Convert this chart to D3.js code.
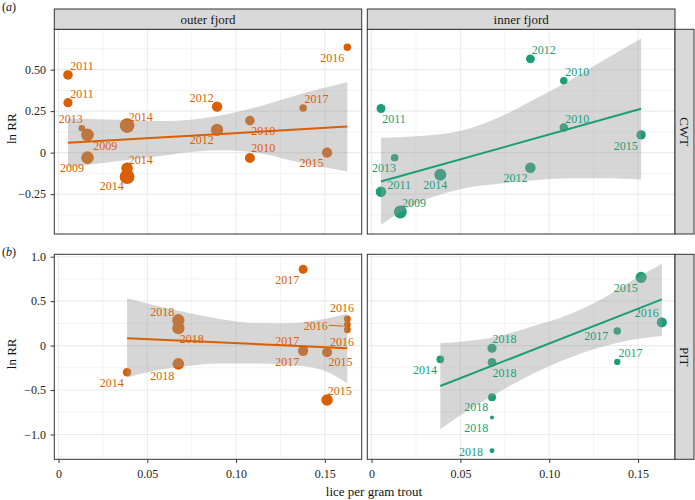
<!DOCTYPE html>
<html><head><meta charset="utf-8">
<script src="https://cdn.jsdelivr.net/npm/d3@7"></script>
<style>body{margin:0;background:#fff} svg{display:block} svg text{font-family:"Liberation Serif","Times New Roman",Times,serif !important}</style>
</head><body><svg id="c" width="695" height="500" font-family="Liberation Serif, Times New Roman, serif"></svg>
<script>
// ---------- data ----------
const sites = ["outer fjord", "inner fjord"];
const methods = ["CWT", "PIT"];
const xTicks = [0, 0.05, 0.10, 0.15];
const xTickLabels = ["0", "0.05", "0.10", "0.15"];
const yTicksCWT = [-0.25, 0, 0.25, 0.5];
const yTickLabelsCWT = ["\u22120.25", "0", "0.25", "0.50"];
const yTicksPIT = [-1, -0.5, 0, 0.5, 1];
const yTickLabelsPIT = ["\u22121.0", "\u22120.5", "0", "0.5", "1.0"];

// CWT, outer fjord
const cwtOuterLice = [0.0053,0.0053,0.0131,0.0163,0.0163,0.0386,0.0386,0.0386,0.0893,0.0893,0.1078,0.1078,0.1378,0.1513,0.1627];
const cwtOuterLnRR = [0.468,0.301,0.147,0.107,-0.03,0.163,-0.094,-0.145,0.277,0.137,0.193,-0.032,0.269,0.0,0.635];
const cwtOuterN    = [23,21,11,40,40,54,33,54,27,38,23,25,14,26,14];
const cwtOuterYear = ["2011","2011","2013","2009","2009","2014","2014","2014","2012","2012","2010","2010","2017","2015","2016"];
// CWT, inner fjord
const cwtInnerLice = [0.0894,0.1082,0.0053,0.1082,0.1517,0.013,0.0894,0.0387,0.0053,0.0162];
const cwtInnerLnRR = [0.565,0.433,0.266,0.151,0.107,-0.03,-0.091,-0.133,-0.236,-0.357];
const cwtInnerN    = [20,14,20,18,22,14,28,36,28,42];
const cwtInnerYear = ["2012","2010","2011","2010","2015","2013","2012","2014","2011","2009"];
// PIT, outer fjord
const pitOuterLice = [0.1378,0.0675,0.0675,0.0675,0.0386,0.1378,0.1378,0.1513,0.1513,0.1627,0.1627,0.1627];
const pitOuterLnRR = [0.859,0.285,0.196,-0.205,-0.30,-0.056,-0.062,-0.074,-0.612,0.30,0.236,0.178];
const pitOuterN    = [20,38,38,34,18,25,25,25,33,12,12,12];
const pitOuterYear = ["2017","2018","2018","2018","2014","2017","2017","2015","2015","2016","2016","2016"];
// PIT, inner fjord
const pitInnerLice = [0.1517,0.1634,0.1383,0.1383,0.0387,0.0678,0.0678,0.0678,0.0678,0.0678];
const pitInnerLnRR = [0.768,0.261,0.165,-0.184,-0.154,-0.03,-0.188,-0.58,-0.808,-1.182];
const pitInnerN    = [31,25,14,10,15,21,19,16,4,6];
const pitInnerYear = ["2015","2016","2017","2017","2014","2018","2018","2018","2018","2018"];

// fitted lines and 95% bands
const cwtOuterFitX = [0.0053, 0.1627], cwtOuterFitY = [0.059, 0.157];
const cwtOuterBandX  = [0.0053,0.0385,0.0572,0.0759,0.0947,0.1134,0.1322,0.1627];
const cwtOuterBandHi = [0.205,0.196,0.19,0.2,0.232,0.28,0.34,0.425];
const cwtOuterBandLo = [-0.09,-0.044,-0.02,0.006,0.014,-0.004,-0.05,-0.114];

const cwtInnerFitX = [0.0053, 0.1517], cwtInnerFitY = [-0.174, 0.264];
const cwtInnerBandX  = [0.0053,0.0179,0.0273,0.0499,0.0743,0.0932,0.112,0.1308,0.1517];
const cwtInnerBandHi = [0.09,0.095,0.10,0.13,0.225,0.33,0.438,0.558,0.687];
const cwtInnerBandLo = [-0.436,-0.345,-0.295,-0.22,-0.185,-0.164,-0.154,-0.154,-0.162];

const pitOuterFitX = [0.0386, 0.1627], pitOuterFitY = [0.083, -0.03];
const pitOuterBandX  = [0.0386,0.0534,0.0722,0.0909,0.1097,0.1285,0.1472,0.1627];
const pitOuterBandHi = [0.534,0.458,0.372,0.30,0.255,0.25,0.29,0.357];
const pitOuterBandLo = [-0.36,-0.285,-0.229,-0.2,-0.2,-0.215,-0.265,-0.424];

const pitInnerFitX = [0.0387, 0.1634], pitInnerFitY = [-0.455, 0.52];
const pitInnerBandX  = [0.0387,0.0517,0.0706,0.0894,0.1082,0.127,0.1458,0.1634];
const pitInnerBandHi = [0.027,0.045,0.101,0.21,0.327,0.495,0.721,0.92];
const pitInnerBandLo = [-0.942,-0.761,-0.536,-0.33,-0.161,-0.029,0.064,0.109];

// label placement (px offsets from point, repel-style)
const cwtOuterLab = [[14,-9],[14,-9],[-11,-9],[17.7,10.7],[-15.6,10],[13.7,-9],[13.7,-8.3],[-15.3,9],[-15.3,-9],[-15.3,10],[13.3,10.3],[13.3,-9.7],[13.4,-9],[-15.6,10.6],[-15,10.4]];
const cwtInnerLab = [[13.3,-9.3],[13.4,-9.3],[13,10.3],[13.4,-8.7],[-15.3,10.7],[-10.7,10],[-15,10],[-5,10.3],[18.3,-6.7],[13.7,-9.4]];
const pitOuterLab = [[-16,10.7],[-16,-8.3],[13.4,11],[-16,11.7],[-15.3,10.4],[-16,-10],[-16,10.5],[13.3,10],[12.7,-9.3],[-5.3,-11.6],[-31.6,0.7],[-5.3,12.4]];
const pitInnerLab = [[-15.3,10],[-15,-9.4],[-21,5],[13.3,-9.3],[-15.3,10.7],[12.6,-9.3],[12.6,10.4],[-15.7,10],[-15.7,10.6],[-21,1]];

// ---------- layout ----------
const FONT = '"Liberation Serif","Times New Roman",Times,serif';
const orange = "#D95F02", green = "#1B9E77";
const colX = [[54.3, 361.7], [367.3, 675]];
const rowY = [[29.3, 234], [254.3, 459.3]];
const xDomain = [-0.0024, 0.1708];
const yDomains = [[-0.49, 0.743], [-1.279, 1.027]];
const xMinor = [0.025, 0.075, 0.125];
const yMinor = [[-0.375, -0.125, 0.125, 0.375, 0.625], [-1.25, -0.75, -0.25, 0.25, 0.75]];
const yMajor = [yTicksCWT, yTicksPIT];
const yLabels = [yTickLabelsCWT, yTickLabelsPIT];

const panels = [
  {r:0,c:0,col:orange,x:cwtOuterLice,y:cwtOuterLnRR,n:cwtOuterN,yr:cwtOuterYear,lab:cwtOuterLab,fx:cwtOuterFitX,fy:cwtOuterFitY,bx:cwtOuterBandX,bh:cwtOuterBandHi,bl:cwtOuterBandLo},
  {r:0,c:1,col:green,x:cwtInnerLice,y:cwtInnerLnRR,n:cwtInnerN,yr:cwtInnerYear,lab:cwtInnerLab,fx:cwtInnerFitX,fy:cwtInnerFitY,bx:cwtInnerBandX,bh:cwtInnerBandHi,bl:cwtInnerBandLo},
  {r:1,c:0,col:orange,x:pitOuterLice,y:pitOuterLnRR,n:pitOuterN,yr:pitOuterYear,lab:pitOuterLab,fx:pitOuterFitX,fy:pitOuterFitY,bx:pitOuterBandX,bh:pitOuterBandHi,bl:pitOuterBandLo,seg:[10]},
  {r:1,c:1,col:green,x:pitInnerLice,y:pitInnerLnRR,n:pitInnerN,yr:pitInnerYear,lab:pitInnerLab,fx:pitInnerFitX,fy:pitInnerFitY,bx:pitInnerBandX,bh:pitInnerBandHi,bl:pitInnerBandLo}
];

const svg = d3.select("#c");
const rScale = d3.scaleSqrt().domain([0, 100]).range([0, 10]);

panels.forEach(p => {
  const [x0, x1] = colX[p.c], [y0, y1] = rowY[p.r];
  const xs = d3.scaleLinear().domain(xDomain).range([x0, x1]);
  const ys = d3.scaleLinear().domain(yDomains[p.r]).range([y1, y0]);
  const g = svg.append("g");
  g.append("rect").attr("x", x0).attr("y", y0).attr("width", x1 - x0).attr("height", y1 - y0).attr("fill", "#fff");
  // grid
  g.selectAll(".mx").data(xMinor).join("line").attr("x1", d => xs(d)).attr("x2", d => xs(d)).attr("y1", y0).attr("y2", y1).attr("stroke", "#EBEBEB").attr("stroke-width", 0.6);
  g.selectAll(".my").data(yMinor[p.r]).join("line").attr("x1", x0).attr("x2", x1).attr("y1", d => ys(d)).attr("y2", d => ys(d)).attr("stroke", "#EBEBEB").attr("stroke-width", 0.6);
  g.selectAll(".Mx").data(xTicks).join("line").attr("x1", d => xs(d)).attr("x2", d => xs(d)).attr("y1", y0).attr("y2", y1).attr("stroke", "#EBEBEB").attr("stroke-width", 1.1);
  g.selectAll(".My").data(yMajor[p.r]).join("line").attr("x1", x0).attr("x2", x1).attr("y1", d => ys(d)).attr("y2", d => ys(d)).attr("stroke", "#EBEBEB").attr("stroke-width", 1.1);

  const pts = p.x.map((v, i) => ({x: v, y: p.y[i], n: p.n[i], yr: p.yr[i], lab: p.lab[i], i}));
  // points
  g.selectAll(".pt").data(pts).join("circle").attr("cx", d => xs(d.x)).attr("cy", d => ys(d.y)).attr("r", d => rScale(d.n)).attr("fill", p.col);
  // ribbon
  const band = p.bx.map((v, i) => ({x: v, lo: p.bl[i], hi: p.bh[i]}));
  g.append("path").datum(band)
    .attr("d", d3.area().x(d => xs(d.x)).y0(d => ys(d.lo)).y1(d => ys(d.hi)).curve(d3.curveMonotoneX))
    .attr("fill", "#999999").attr("fill-opacity", 0.4);
  // fit line
  g.append("path").datum(p.fx.map((v, i) => [v, p.fy[i]]))
    .attr("d", d3.line().x(d => xs(d[0])).y(d => ys(d[1])))
    .attr("stroke", p.col).attr("stroke-width", 2).attr("fill", "none");
  // segments
  (p.seg || []).forEach(i => {
    const d = pts[i];
    const px = xs(d.x), py = ys(d.y);
    g.append("line").attr("x1", px + d.lab[0] + 13).attr("y1", py + d.lab[1])
      .attr("x2", px - rScale(d.n) - 0.5).attr("y2", py + 1.5).attr("stroke", p.col).attr("stroke-width", 1);
  });
  // labels
  g.selectAll(".lb").data(pts).join("text")
    .attr("x", d => xs(d.x) + d.lab[0]).attr("y", d => ys(d.y) + d.lab[1])
    .attr("text-anchor", "middle").attr("dy", "0.35em").attr("font-family", FONT)
    .attr("font-size", 12).attr("fill", p.col).text(d => d.yr);
  // border
  g.append("rect").attr("x", x0).attr("y", y0).attr("width", x1 - x0).attr("height", y1 - y0)
    .attr("fill", "none").attr("stroke", "#333333").attr("stroke-width", 1);

  // axes
  if (p.c === 0) {
    const ax = svg.append("g").attr("transform", `translate(${x0},0)`)
      .call(d3.axisLeft(ys).tickValues(yMajor[p.r]).tickFormat((d, i) => yLabels[p.r][i]).tickSize(3.7).tickPadding(4.5));
    ax.attr("font-family", FONT);
    ax.select(".domain").remove();
    ax.selectAll("line").attr("stroke", "#333333");
    ax.selectAll("text").attr("font-size", 12).attr("fill", "#222").attr("font-family", FONT);
  }
  if (p.r === 1) {
    const ax = svg.append("g").attr("transform", `translate(0,${y1})`)
      .call(d3.axisBottom(xs).tickValues(xTicks).tickFormat((d, i) => xTickLabels[i]).tickSize(3.7).tickPadding(6));
    ax.attr("font-family", FONT);
    ax.select(".domain").remove();
    ax.selectAll("line").attr("stroke", "#333333");
    ax.selectAll("text").attr("font-size", 12).attr("fill", "#222").attr("font-family", FONT);
  }
});

// strips top
sites.forEach((s, c) => {
  const [x0, x1] = colX[c];
  svg.append("rect").attr("x", x0).attr("y", 9).attr("width", x1 - x0).attr("height", rowY[0][0] - 9)
    .attr("fill", "#D9D9D9").attr("stroke", "#333333").attr("stroke-width", 1);
  svg.append("text").attr("x", (x0 + x1) / 2).attr("y", (9 + rowY[0][0]) / 2).attr("dy", "0.35em")
    .attr("text-anchor", "middle").attr("font-size", 13).attr("font-family", FONT).attr("fill", "#1A1A1A").text(s);
});
// strips right
methods.forEach((m, r) => {
  const [y0, y1] = rowY[r];
  svg.append("rect").attr("x", 675).attr("y", y0).attr("width", 19).attr("height", y1 - y0)
    .attr("fill", "#D9D9D9").attr("stroke", "#333333").attr("stroke-width", 1);
  const cy = (y0 + y1) / 2;
  svg.append("text").attr("transform", `translate(684.5,${cy}) rotate(90)`).attr("dy", "0.35em")
    .attr("text-anchor", "middle").attr("font-size", 13).attr("font-family", FONT).attr("fill", "#1A1A1A").text(m);
  // y title
  svg.append("text").attr("transform", `translate(11,${cy - 3}) rotate(-90)`).attr("dy", "0.35em")
    .attr("text-anchor", "middle").attr("font-size", 13).attr("font-family", FONT).attr("fill", "#111").text("ln RR");
});
// x title
svg.append("text").attr("x", 374).attr("y", 495.5).attr("text-anchor", "middle")
  .attr("font-size", 13).attr("font-family", FONT).attr("fill", "#111").text("lice per gram trout");
// panel letters
[["a", 10.5], ["b", 256]].forEach(([l, y]) => {
  const t = svg.append("text").attr("x", 2).attr("y", y).attr("font-size", 12).attr("font-family", FONT).attr("fill", "#111");
  t.append("tspan").text("(");
  t.append("tspan").attr("font-style", "italic").text(l);
  t.append("tspan").text(")");
});
</script></body></html>
